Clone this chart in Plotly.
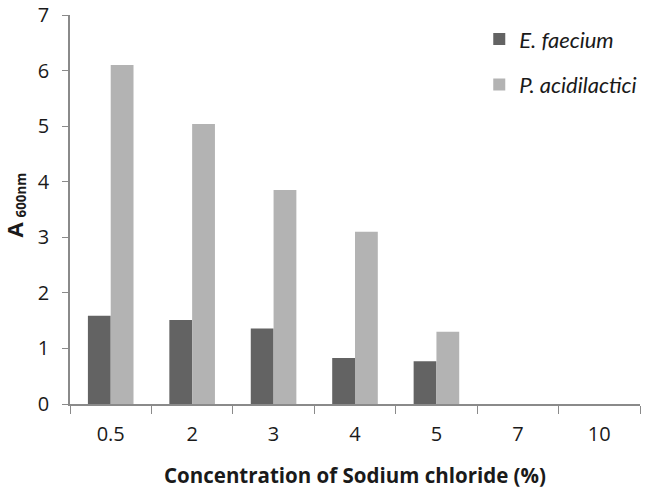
import plotly.graph_objects as go

categories = ["0.5", "2", "3", "4", "5", "7", "10"]
e_faecium = [1.59, 1.51, 1.36, 0.83, 0.77, 0, 0]
p_acidilactici = [6.10, 5.04, 3.85, 3.10, 1.30, 0, 0]

FONT = "Open Sans, sans-serif"

fig = go.Figure()
fig.add_trace(go.Bar(x=categories, y=e_faecium, name="<i>E. faecium</i>",
                     legendgroup="a",
                     marker=dict(color="#636363", line=dict(width=0))))
fig.add_trace(go.Bar(x=categories, y=p_acidilactici, name="<i>P. acidilactici</i>",
                     legendgroup="b",
                     marker=dict(color="#b3b3b3", line=dict(width=0))))

fig.update_layout(
    width=646, height=488,
    margin=dict(l=70, r=6, t=15, b=84, autoexpand=False),
    paper_bgcolor="white", plot_bgcolor="white",
    barmode="group", bargap=0.44, bargroupgap=0,
    font=dict(family=FONT, size=20, color="#1a1a1a"),
    showlegend=True,
    legend=dict(x=0.718, y=0.992, xanchor="left", yanchor="top",
                font=dict(family="Lato, sans-serif", size=22, color="#1a1a1a"),
                traceorder="grouped", tracegroupgap=14, itemwidth=30,
                bgcolor="rgba(0,0,0,0)"),
    xaxis=dict(
        type="category", showline=True, linecolor="#8a8a8a", linewidth=1.5,
        ticks="outside", ticklen=8, tickcolor="#8a8a8a", tickson="boundaries",
        ticklabelstandoff=11, automargin=False,
        tickfont=dict(size=20), showgrid=False,
    ),
    yaxis=dict(
        range=[0, 7], dtick=1, showline=True, linecolor="#8a8a8a", linewidth=1.5,
        ticks="outside", ticklen=6, tickcolor="#8a8a8a",
        ticklabelstandoff=9, automargin=False,
        tickfont=dict(size=20), showgrid=False, zeroline=False,
    ),
    annotations=[
        dict(text="<b>Concentration of Sodium chloride (%)</b>",
             xref="paper", yref="paper", x=0.5, y=0, yshift=-71,
             xanchor="center", yanchor="middle", showarrow=False,
             font=dict(family=FONT, size=20.5, color="#1a1a1a")),
        dict(text="<b><span style='font-size:22px'>A</span> <sub>600nm</sub></b>",
             xref="paper", yref="paper", x=0, y=0.5, xshift=-56, yshift=4,
             xanchor="center", yanchor="middle", textangle=-90, showarrow=False,
             font=dict(family=FONT, size=19, color="#1a1a1a")),
    ],
)

fig.write_html("out.html", config={"displayModeBar": False},
               post_script="document.body.style.margin='0';")
